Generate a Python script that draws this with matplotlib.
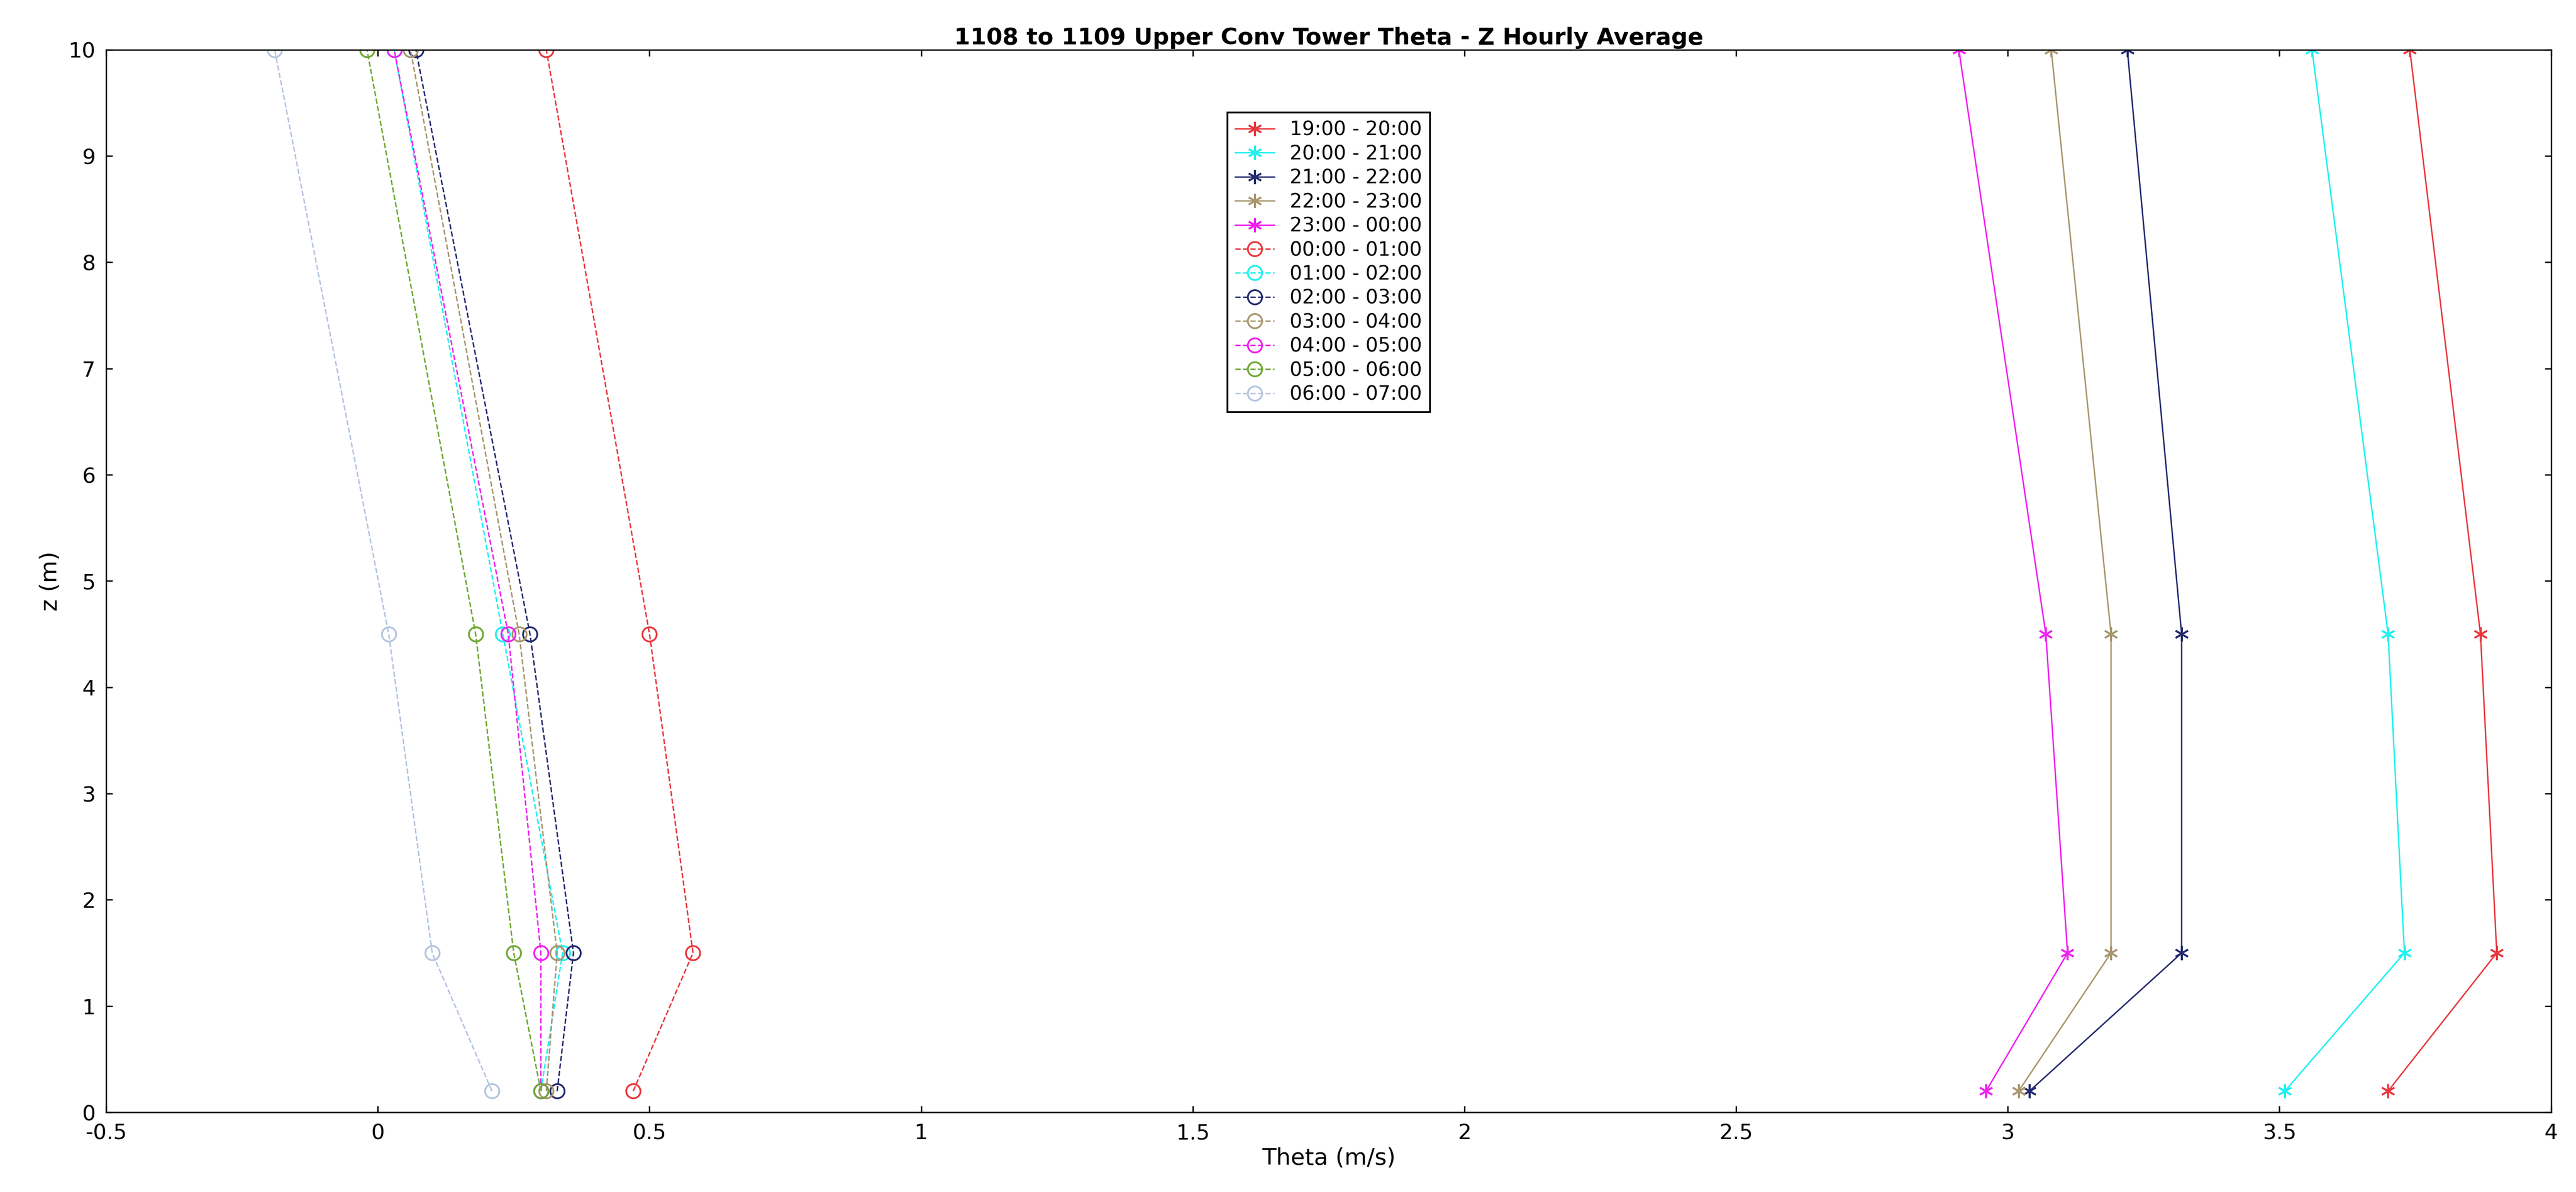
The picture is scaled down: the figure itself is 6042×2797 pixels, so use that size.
import matplotlib
matplotlib.use('Agg')
import matplotlib.pyplot as plt

z = [0.2, 1.5, 4.5, 10]
labels = ['19:00 - 20:00', '20:00 - 21:00', '21:00 - 22:00', '22:00 - 23:00', '23:00 - 00:00',
          '00:00 - 01:00', '01:00 - 02:00', '02:00 - 03:00', '03:00 - 04:00', '04:00 - 05:00',
          '05:00 - 06:00', '06:00 - 07:00']
theta = [
    [3.70, 3.90, 3.87, 3.74],
    [3.51, 3.73, 3.70, 3.56],
    [3.04, 3.32, 3.32, 3.22],
    [3.02, 3.19, 3.19, 3.08],
    [2.96, 3.11, 3.07, 2.91],
    [0.47, 0.58, 0.50, 0.31],
    [0.30, 0.34, 0.23, 0.03],
    [0.33, 0.36, 0.28, 0.07],
    [0.31, 0.33, 0.26, 0.06],
    [0.30, 0.30, 0.24, 0.03],
    [0.30, 0.25, 0.18, -0.02],
    [0.21, 0.10, 0.02, -0.19],
]
colors = ['#e8383d', '#1ff0f0', '#232a6e', '#a8966e', '#f020f0',
          '#e8383d', '#1ff0f0', '#232a6e', '#a8966e', '#f020f0', '#6ea832', '#b4c4e0']

fig = plt.figure(figsize=(6042/300, 2797/300), dpi=300)
ax = fig.add_axes([64/1552, 48/718, (1537-64)/1552, (670-30)/718])
for i in range(len(labels)):
    if i < 5:
        ax.plot(theta[i], z, '-', marker=(6, 2, 0), color=colors[i], lw=0.8, ms=8, label=labels[i])
    else:
        ax.plot(theta[i], z, '--', marker='o', mfc='none', color=colors[i], lw=0.8, ms=8, label=labels[i])

ax.set_xlim(-0.5, 4)
ax.set_ylim(0, 10)
ax.set_xticks([-0.5, 0, 0.5, 1, 1.5, 2, 2.5, 3, 3.5, 4])
ax.set_xticklabels(['-0.5', '0', '0.5', '1', '1.5', '2', '2.5', '3', '3.5', '4'])
ax.set_yticks(range(11))
ax.tick_params(direction='in', labelsize=12, top=True, right=True, pad=6)
ax.set_xlabel('Theta (m/s)', fontsize=13, labelpad=2)
ax.set_ylabel('z (m)', fontsize=13)
ax.set_title('1108 to 1109 Upper Conv Tower Theta - Z Hourly Average', fontsize=13, fontweight='bold', pad=3)
leg = ax.legend(loc='upper center', bbox_to_anchor=(0.5, 0.95), fontsize=11, fancybox=False,
                edgecolor='black', framealpha=1, labelspacing=0.25, borderpad=0.4)
fig.savefig('out.png', dpi=300)
